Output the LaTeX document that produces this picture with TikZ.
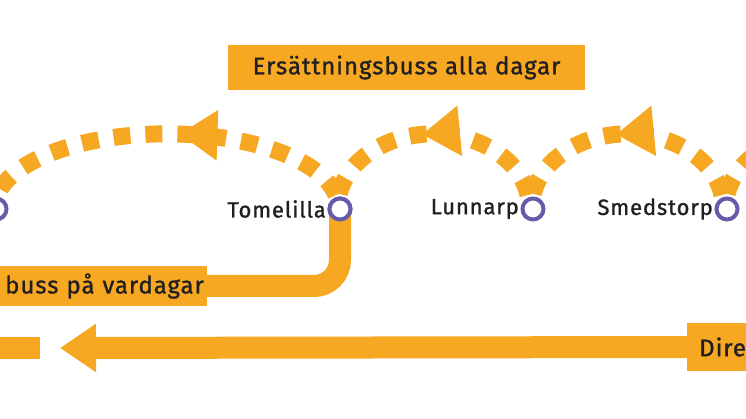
\documentclass[tikz,border=0pt]{standalone}
\usepackage{fontspec}
\setmainfont{Fira Sans}[LetterSpace=4,FakeBold=1.2,AutoFakeBold=1.2]
\usetikzlibrary{arrows.meta,decorations.markings}
\definecolor{og}{HTML}{F7A823}
\definecolor{pu}{HTML}{6A5BAA}
\definecolor{tx}{HTML}{231F20}
\tikzset{
  dashroute/.style={draw=og,line width=17pt,dash pattern=on 17pt off 15pt,
    postaction={decorate},decoration={markings,mark=at position #1 with {\arrow[og,solid]{Triangle[length=38pt,width=48pt]}}}},
  station/.style={circle,draw=pu,fill=white,line width=4pt,minimum size=21pt,inner sep=0pt},
  slabel/.style={text=tx,font=\fontsize{22}{26}\selectfont,anchor=east,inner sep=0pt},
  banner/.style={fill=og,text=tx,font=\fontsize{24}{28}\selectfont,inner sep=0pt},
  solidroute/.style={draw=og,line width=22pt}
}
\begin{document}
\begin{tikzpicture}[x=1pt,y=-1pt]
\useasboundingbox (0,0) rectangle (746,419);
\clip (0,0) rectangle (746,419);
% dashed arcs
\draw[dashroute=0.45] (336,195) arc[start angle=-10,end angle=-180,x radius=172,y radius=74];
\draw[dashroute=0.52] (528,195) arc[start angle=-10,end angle=-180,x radius=96,y radius=74];
\draw[dashroute=0.52] (722,195) arc[start angle=-10,end angle=-180,x radius=96,y radius=74];
\draw[dashroute=0.52] (916,195) arc[start angle=-10,end angle=-180,x radius=96,y radius=74];
% solid route to bottom-left
\node[station] (tom) at (340,209) {};
\coordinate (bl) at (150,286);
\draw[solidroute,rounded corners=26pt] (tom.center) -- (340,286) -- (bl);
\node[banner,minimum height=40pt,minimum width=230pt,anchor=east,text width=224pt,align=right] (bbox) at (207,286) {buss på vardagar};
% bottom line
\node[banner,minimum height=48pt,minimum width=70pt,anchor=west,text width=62pt,align=left] (dire) at (687,347) {\hspace*{8pt}Dire};
\coordinate (tip) at (60,348);
\draw[solidroute,-{Triangle[length=36pt,width=46pt]}] (dire.west) -- (tip);
\fill[og] (0,337) rectangle (40,359);
% top banner
\node[banner,minimum height=45pt,minimum width=357pt] (top) at (406.5,67.5) {Ersättningsbuss alla dagar};
% stations
\node[station] (tom2) at (340,209) {};
\node[station] (lun) at (533,209) {};
\node[station] (sme) at (727,209) {};
\node[station] (left) at (-4,209) {};
\node[slabel] at (326,209) {Tomelilla};
\node[slabel] at (519,209) {Lunnarp};
\node[slabel] at (713,209) {Smedstorp};
\end{tikzpicture}
\end{document}
